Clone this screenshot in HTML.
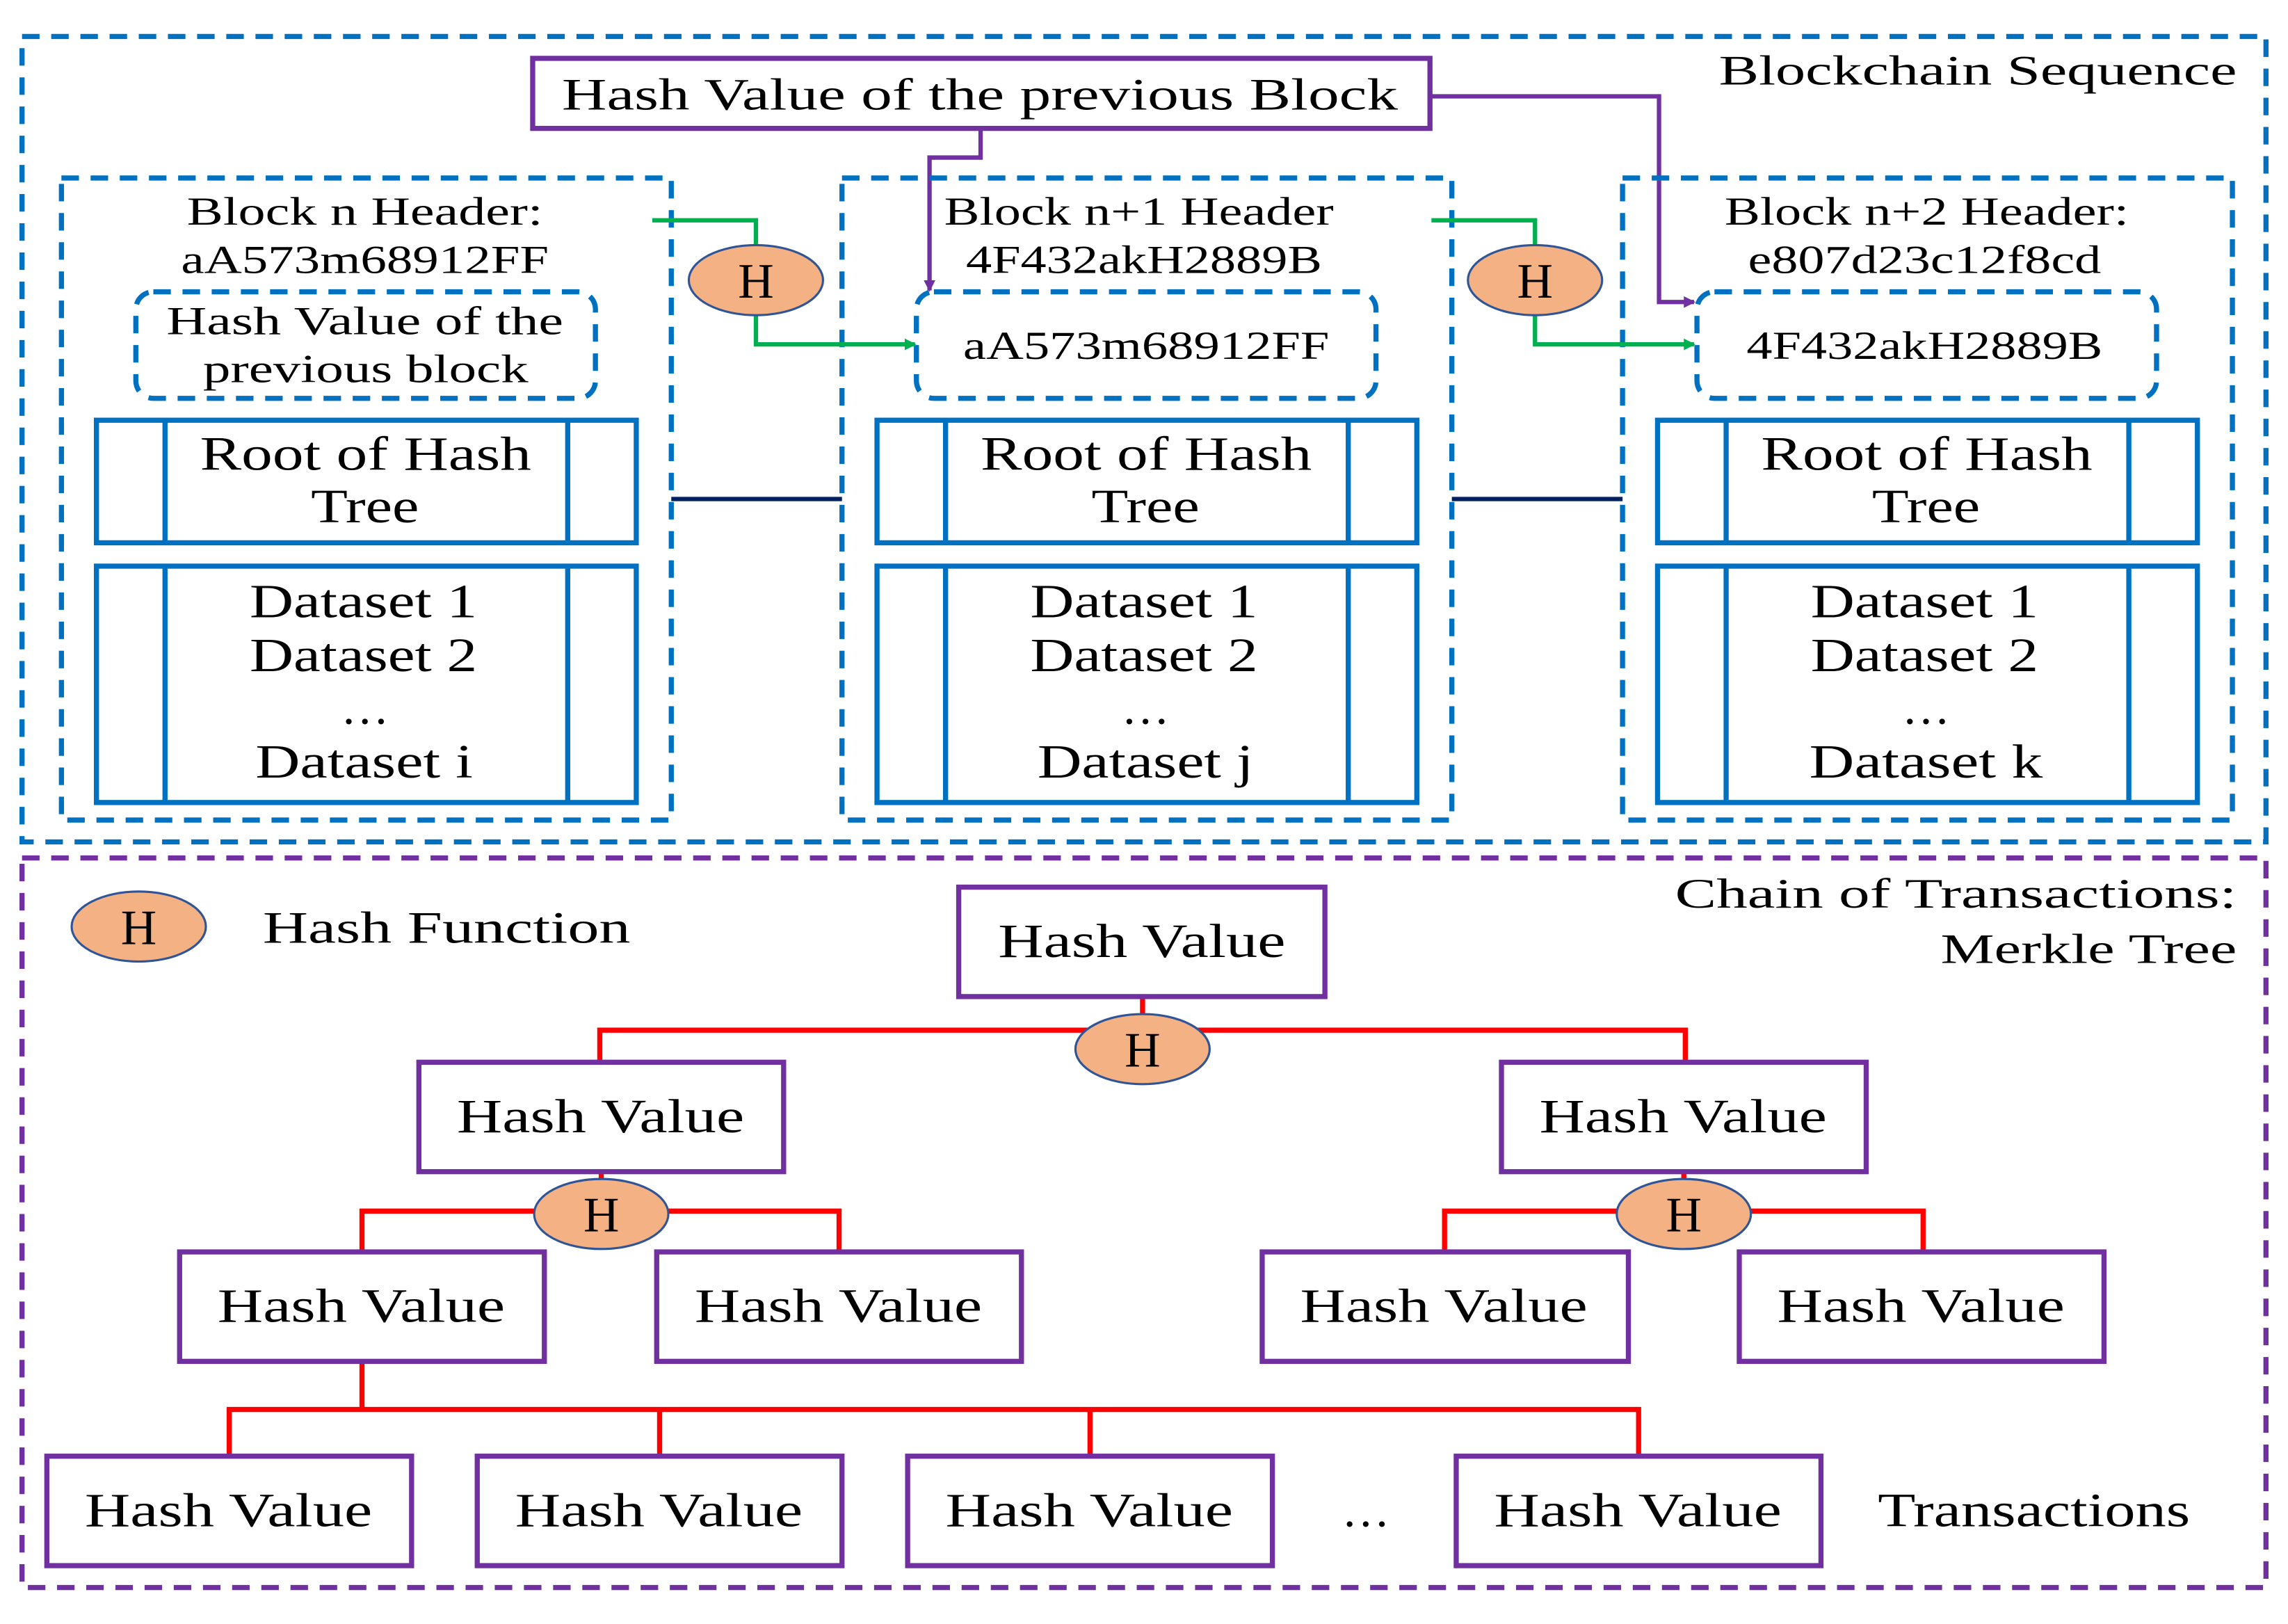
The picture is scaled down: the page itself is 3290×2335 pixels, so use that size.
<!DOCTYPE html>
<html><head><meta charset="utf-8"><style>html,body{margin:0;padding:0;background:#fff}svg{display:block}</style></head>
<body>
<svg width="3290" height="2335" viewBox="0 0 1568 1113" xmlns="http://www.w3.org/2000/svg" font-family="'Liberation Serif', serif" fill="none">
<defs>
<marker id="ag" markerWidth="8" markerHeight="8" refX="7" refY="4" orient="auto" markerUnits="userSpaceOnUse" viewBox="0 0 8 8"><path d="M0,0 L8,4 L0,8 Z" fill="#00b050"/></marker>
<marker id="ap" markerWidth="8" markerHeight="8" refX="7" refY="4" orient="auto" markerUnits="userSpaceOnUse" viewBox="0 0 8 8"><path d="M0,0 L8,4 L0,8 Z" fill="#7030a0"/></marker>
</defs>
<rect x="15" y="25" width="1538" height="552" stroke="#0070c0" stroke-width="3.5" stroke-dasharray="12,8"/>
<rect x="15" y="588" width="1538" height="500" stroke="#7030a0" stroke-width="3.5" stroke-dasharray="12,8"/>
<g fill="#000" font-size="29" lengthAdjust="spacingAndGlyphs">
<text x="1178" y="58" textLength="355" lengthAdjust="spacingAndGlyphs">Blockchain Sequence</text>
<text x="1148" y="622" textLength="385" lengthAdjust="spacingAndGlyphs">Chain of Transactions:</text>
<text x="1330" y="660" textLength="203" lengthAdjust="spacingAndGlyphs">Merkle Tree</text>
</g>
<rect x="365" y="40" width="615" height="48" stroke="#7030a0" stroke-width="3.5"/>
<text x="385" y="75" fill="#000" font-size="31" textLength="573" lengthAdjust="spacingAndGlyphs">Hash Value of the previous Block</text>
<path d="M672,88 V108 H637 V199" stroke="#7030a0" stroke-width="3" marker-end="url(#ap)"/>
<path d="M980,66 H1137 V207 H1161" stroke="#7030a0" stroke-width="3" marker-end="url(#ap)"/>
<path d="M460,342 H577 M995,342 H1112" stroke="#002060" stroke-width="3"/>
<g id="b1">
<rect x="42" y="122" width="418" height="440" stroke="#0070c0" stroke-width="3.5" stroke-dasharray="12,8"/>
<rect x="93" y="200" width="315" height="73" rx="12" stroke="#0070c0" stroke-width="3.5" stroke-dasharray="12,8"/>
<rect x="66" y="288" width="370" height="84" stroke="#0070c0" stroke-width="3.5"/>
<path d="M113,288 V372 M389,288 V372 M113,388 V550 M389,388 V550" stroke="#0070c0" stroke-width="3.5"/>
<rect x="66" y="388" width="370" height="162" stroke="#0070c0" stroke-width="3.5"/>
</g>
<use href="#b1" x="535"/>
<use href="#b1" x="1070"/>
<g fill="#000" font-size="27">
<text x="128" y="154" textLength="244" lengthAdjust="spacingAndGlyphs">Block n Header:</text>
<text x="124" y="187" textLength="252" lengthAdjust="spacingAndGlyphs">aA573m68912FF</text>
<text x="647" y="154" textLength="267" lengthAdjust="spacingAndGlyphs">Block n+1 Header</text>
<text x="662" y="187" textLength="244" lengthAdjust="spacingAndGlyphs">4F432akH2889B</text>
<text x="1182" y="154" textLength="277" lengthAdjust="spacingAndGlyphs">Block n+2 Header:</text>
<text x="1198" y="187" textLength="242" lengthAdjust="spacingAndGlyphs">e807d23c12f8cd</text>
<text x="114" y="229" textLength="272" lengthAdjust="spacingAndGlyphs">Hash Value of the</text>
<text x="139" y="262" textLength="223" lengthAdjust="spacingAndGlyphs">previous block</text>
<text x="660" y="246" textLength="251" lengthAdjust="spacingAndGlyphs">aA573m68912FF</text>
<text x="1197" y="246" textLength="244" lengthAdjust="spacingAndGlyphs">4F432akH2889B</text>
</g>
<g fill="#000" font-size="33">
<text x="137" y="322" textLength="227" lengthAdjust="spacingAndGlyphs">Root of Hash</text><text x="213" y="358" textLength="74" lengthAdjust="spacingAndGlyphs">Tree</text>
<text x="672" y="322" textLength="227" lengthAdjust="spacingAndGlyphs">Root of Hash</text><text x="748" y="358" textLength="74" lengthAdjust="spacingAndGlyphs">Tree</text>
<text x="1207" y="322" textLength="227" lengthAdjust="spacingAndGlyphs">Root of Hash</text><text x="1283" y="358" textLength="74" lengthAdjust="spacingAndGlyphs">Tree</text>
<text x="171" y="423" textLength="156" lengthAdjust="spacingAndGlyphs">Dataset 1</text><text x="171" y="460" textLength="156" lengthAdjust="spacingAndGlyphs">Dataset 2</text><text x="250" y="496" text-anchor="middle">…</text><text x="175" y="533" textLength="149" lengthAdjust="spacingAndGlyphs">Dataset i</text>
<text x="706" y="423" textLength="156" lengthAdjust="spacingAndGlyphs">Dataset 1</text><text x="706" y="460" textLength="156" lengthAdjust="spacingAndGlyphs">Dataset 2</text><text x="785" y="496" text-anchor="middle">…</text><text x="711" y="533" textLength="148" lengthAdjust="spacingAndGlyphs">Dataset j</text>
<text x="1241" y="423" textLength="156" lengthAdjust="spacingAndGlyphs">Dataset 1</text><text x="1241" y="460" textLength="156" lengthAdjust="spacingAndGlyphs">Dataset 2</text><text x="1320" y="496" text-anchor="middle">…</text><text x="1240" y="533" textLength="160" lengthAdjust="spacingAndGlyphs">Dataset k</text>
</g>
<path d="M447,151 H518 V170 M518,214 V236 H627" stroke="#00b050" stroke-width="3" marker-end="url(#ag)"/>
<path d="M981,151 H1052 V170 M1052,214 V236 H1161" stroke="#00b050" stroke-width="3" marker-end="url(#ag)"/>
<g stroke="#ff0000" stroke-width="3.5">
<path d="M783,683 V706 M411,728 V706 H1155 V728"/>
<path d="M412,803 V830 M248,858 V830 H575 V858"/>
<path d="M1154,803 V830 M990,858 V830 H1318 V858"/>
<path d="M248,933 V966 M157,998 V966 H1123 V998 M452,966 V998 M747,966 V998"/>
</g>
<g stroke="#2f5597" stroke-width="1.5" fill="#f4b183">
<ellipse cx="518" cy="192" rx="46" ry="24"/>
<ellipse cx="1052" cy="192" rx="46" ry="24"/>
<ellipse cx="95" cy="635" rx="46" ry="24"/>
<ellipse cx="783" cy="719" rx="46" ry="24"/>
<ellipse cx="412" cy="832" rx="46" ry="24"/>
<ellipse cx="1154" cy="832" rx="46" ry="24"/>
</g>
<g fill="#000" font-size="34" text-anchor="middle">
<text x="518" y="204">H</text><text x="1052" y="204">H</text><text x="95" y="647">H</text>
<text x="783" y="731">H</text><text x="412" y="844">H</text><text x="1154" y="844">H</text>
</g>
<text x="180" y="646" fill="#000" font-size="31" textLength="252" lengthAdjust="spacingAndGlyphs">Hash Function</text>
<g stroke="#7030a0" stroke-width="3.5" fill="#fff">
<rect x="657" y="608" width="251" height="75"/>
<rect x="287" y="728" width="250" height="75"/>
<rect x="1029" y="728" width="250" height="75"/>
<rect x="123" y="858" width="250" height="75"/>
<rect x="450" y="858" width="250" height="75"/>
<rect x="865" y="858" width="251" height="75"/>
<rect x="1192" y="858" width="250" height="75"/>
<rect x="32" y="998" width="250" height="75"/>
<rect x="327" y="998" width="250" height="75"/>
<rect x="622" y="998" width="250" height="75"/>
<rect x="998" y="998" width="250" height="75"/>
</g>
<g fill="#000" font-size="33">
<text x="684" y="656" textLength="197" lengthAdjust="spacingAndGlyphs">Hash Value</text>
<text x="313" y="776" textLength="197" lengthAdjust="spacingAndGlyphs">Hash Value</text>
<text x="1055" y="776" textLength="197" lengthAdjust="spacingAndGlyphs">Hash Value</text>
<text x="149" y="906" textLength="197" lengthAdjust="spacingAndGlyphs">Hash Value</text>
<text x="476" y="906" textLength="197" lengthAdjust="spacingAndGlyphs">Hash Value</text>
<text x="891" y="906" textLength="197" lengthAdjust="spacingAndGlyphs">Hash Value</text>
<text x="1218" y="906" textLength="197" lengthAdjust="spacingAndGlyphs">Hash Value</text>
<text x="58" y="1046" textLength="197" lengthAdjust="spacingAndGlyphs">Hash Value</text>
<text x="353" y="1046" textLength="197" lengthAdjust="spacingAndGlyphs">Hash Value</text>
<text x="648" y="1046" textLength="197" lengthAdjust="spacingAndGlyphs">Hash Value</text>
<text x="1024" y="1046" textLength="197" lengthAdjust="spacingAndGlyphs">Hash Value</text>
<text x="936" y="1046" text-anchor="middle">…</text>
<text x="1287" y="1046" textLength="214" lengthAdjust="spacingAndGlyphs">Transactions</text>
</g>
</svg>
</body></html>
